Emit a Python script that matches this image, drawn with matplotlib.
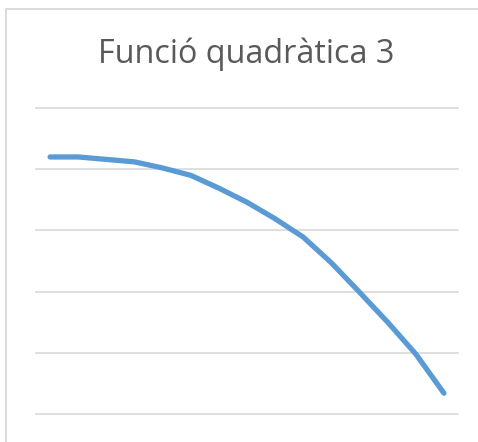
import matplotlib
matplotlib.use("Agg")
import matplotlib.pyplot as plt
from matplotlib.lines import Line2D

TITLE = "Funció quadràtica 3"

# x categories and the plotted values of the quadratic
categories = list(range(15))
values = [4.20, 4.20, 4.16, 4.12, 4.02, 3.90, 3.69, 3.46,
          3.19, 2.89, 2.47, 1.99, 1.50, 0.98, 0.34]
y_ticks = [0, 1, 2, 3, 4, 5]

LINE_COLOR = "#5B9BD5"
GRID_COLOR = "#D9D9D9"
TEXT_COLOR = "#595959"

W, H, DPI = 478, 442, 100

fig = plt.figure(figsize=(W / DPI, H / DPI), dpi=DPI)
fig.patch.set_facecolor("white")

# chart frame: only the left and top edges fall inside the image
fx, fy = 6 / W, 1 - 9 / H
fig.add_artist(Line2D([fx, fx, 1.0], [0.0, fy, fy], transform=fig.transFigure,
                      color=GRID_COLOR, linewidth=1.3))

ax = fig.add_axes([36 / W, 1 - 414 / H, (458 - 36) / W, (414 - 108) / H])
ax.plot(categories, values, color=LINE_COLOR, linewidth=3.8,
        solid_capstyle="round", solid_joinstyle="round", zorder=3)

ax.set_xlim(-0.5, len(categories) - 0.5)
ax.set_ylim(y_ticks[0], y_ticks[-1])
ax.set_yticks(y_ticks)
ax.grid(axis="y", color=GRID_COLOR, linewidth=1.2)
ax.tick_params(left=False, bottom=False, labelleft=False, labelbottom=False)
for s in ax.spines.values():
    s.set_visible(False)
ax.set_axisbelow(True)
for ln in ax.get_ygridlines():
    ln.set_clip_on(False)

fig.text(246 / W, 1 - 63 / H, TITLE, ha="center", va="baseline",
         fontsize=23.3, color=TEXT_COLOR, family="Open Sans")

fig.savefig("out.png", dpi=DPI)
